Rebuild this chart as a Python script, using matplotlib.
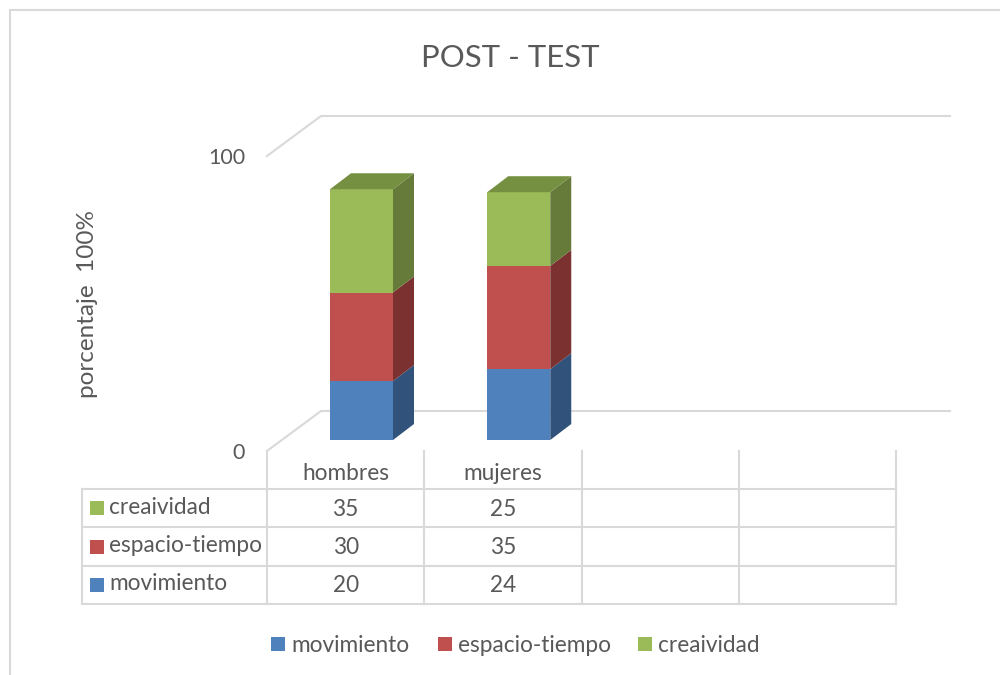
import matplotlib
matplotlib.use('Agg')
import matplotlib.pyplot as plt
from matplotlib.patches import Polygon, Rectangle

plt.rcParams['font.family'] = ['Lato', 'DejaVu Sans']

categories = ['hombres', 'mujeres', '', '']
series_names = ['movimiento', 'espacio-tiempo', 'creaividad']
movimiento = [20, 24]
espacio_tiempo = [30, 35]
creaividad = [35, 25]
series_values = [movimiento, espacio_tiempo, creaividad]
y_ticks = [0, 100]

front_colors = ['#4f81bd', '#c0504d', '#9bbb59']
side_colors = ['#31527a', '#7a312f', '#667a3a']
top_color = '#769042'
grid_color = '#d9d9d9'
text_color = '#595959'
label_size = 16.3

W, H = 1000, 675
fig = plt.figure(figsize=(W / 100, H / 100), dpi=100)

# chart border
fig.add_artist(Rectangle((9.5 / W, -0.1), 1.2, 1.1 - 10.5 / H, transform=fig.transFigure,
                         fill=False, ec=grid_color, lw=1.5))

# axes = front plane of the 3d box, one x unit per category, y in percent
x0, x1, y0, y100 = 267, 896, 451, 156
ax = fig.add_axes([x0 / W, 1 - y0 / H, (x1 - x0) / W, (y0 - y100) / H])
ax.set_xlim(0, 4)
ax.set_ylim(0, 100)
ax.axis('off')

px_x = 4 / (x1 - x0)
px_y = 100 / (y0 - y100)
dx = 54 * px_x   # wall depth
dy = 40 * px_y
wall_right = (950 - x0) * px_x


def px(x):
    return (x - x0) * px_x


def py(y):
    return (y0 - y) * px_y


# back wall gridlines
for t in y_ticks:
    ax.plot([0, dx, wall_right], [t, t + dy, t + dy], color=grid_color, lw=1.5, clip_on=False,
            solid_joinstyle='miter', zorder=1)
    ax.text(px(245), t - 2 * px_y, str(t), ha='right', va='center', fontsize=15.5, color=text_color)

# stacked 3d bars
bar_w = 63 * px_x
bar_dx = 21 * px_x
bar_dy = 16 * px_y
base = py(440)
for i in range(len(movimiento)):
    left = i + px(330)
    bottom = base
    for j, vals in enumerate(series_values):
        v = vals[i]
        ax.bar(left, v, width=bar_w, bottom=bottom, align='edge', color=front_colors[j],
               clip_on=False, zorder=3)
        r = left + bar_w
        ax.add_patch(Polygon([(r, bottom), (r + bar_dx, bottom + bar_dy),
                              (r + bar_dx, bottom + v + bar_dy), (r, bottom + v)],
                             fc=side_colors[j], ec='none', clip_on=False, zorder=3))
        bottom += v
    ax.add_patch(Polygon([(left, bottom), (left + bar_w, bottom),
                          (left + bar_w + bar_dx, bottom + bar_dy), (left + bar_dx, bottom + bar_dy)],
                         fc=top_color, ec='none', clip_on=False, zorder=3))

# data table
row_tops = [489, 527, 566, 604]
table_left = 82
for r in row_tops:
    ax.plot([px(table_left), 4], [py(r), py(r)], color=grid_color, lw=1.5, clip_on=False)
ax.plot([px(table_left)] * 2, [py(row_tops[0]), py(row_tops[-1])], color=grid_color, lw=1.5, clip_on=False)
for k in range(5):
    ax.plot([k, k], [0, py(row_tops[-1])], color=grid_color, lw=1.5, clip_on=False)

for k, c in enumerate(categories):
    ax.text(k + 0.5, py(474), c, ha='center', va='center', fontsize=label_size, color=text_color)

for row, j in enumerate([2, 1, 0]):
    yc = (row_tops[row] + row_tops[row + 1]) / 2
    ax.add_patch(Rectangle((px(90), py(yc + 7)), 14 * px_x, 14 * px_y, fc=front_colors[j], ec='none', clip_on=False))
    ax.text(px(109), py(yc - 1), series_names[j], ha='left', va='center', fontsize=label_size, color=text_color)
    for i, v in enumerate(series_values[j]):
        ax.text(i + 0.5, py(yc + 1), str(v), ha='center', va='center', fontsize=label_size, color=text_color)

# legend
leg_swatch = [271, 438, 638]
for j, name in enumerate(series_names):
    ax.add_patch(Rectangle((px(leg_swatch[j]), py(651)), 14 * px_x, 14 * px_y, fc=front_colors[j], ec='none', clip_on=False))
    ax.text(px(leg_swatch[j] + 20), py(645), name, ha='left', va='center', fontsize=label_size, color=text_color)

# titles
fig.text(510 / W, 1 - 58 / H, 'POST - TEST', ha='center', va='center', fontsize=22.4, color=text_color)
fig.text(88 / W, 1 - 304 / H, 'porcentaje  100%', ha='center', va='center', rotation=90, fontsize=17.5, color=text_color)

fig.savefig('out.png', dpi=100)
